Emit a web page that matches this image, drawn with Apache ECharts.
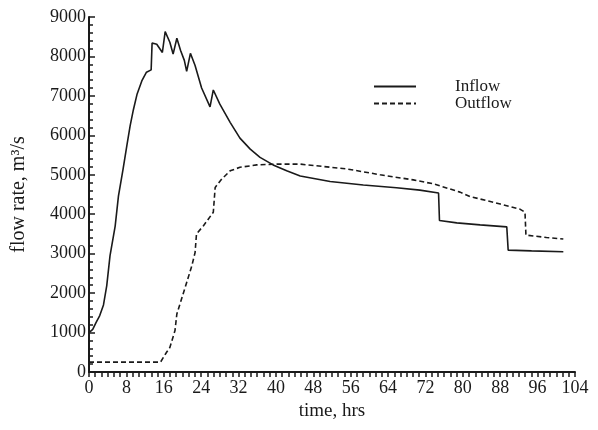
<!DOCTYPE html>
<html>
<head>
<meta charset="utf-8">
<title>Flow rate vs time</title>
<script src="https://cdn.jsdelivr.net/npm/echarts@6/dist/echarts.min.js"></script>
<style>
  html, body { margin: 0; padding: 0; background: #fff; }
  #chart { width: 598px; height: 430px; }
</style>
</head>
<body>
<div id="chart"></div>
<script>
// Reservoir routing hydrograph: inflow and outflow (m^3/s) over time (hrs)
const inflowTime = [0, 0.8, 1.5, 2.3, 3.1, 3.8, 4.5, 5.6, 6.3, 7.3, 8.1, 8.8, 9.5, 10.3, 11.3, 12.3,
  13.3, 13.5, 14.5, 15.7, 16.3, 17.3, 18.0, 18.8, 19.6, 20.4, 20.9, 21.7, 22.7, 24.1, 25.9, 26.6,
  28.0, 30.2, 32.3, 34.5, 36.6, 39.4, 42.3, 45.2, 51.6, 58.7, 65.8, 70.8, 74.8, 75.0, 78.7, 83.7,
  89.4, 89.7, 94.7, 101.5];
const inflowRate = [1000, 1080, 1250, 1430, 1700, 2190, 2950, 3700, 4460, 5150, 5740, 6240, 6650, 7050, 7380, 7600,
  7660, 8340, 8310, 8100, 8630, 8360, 8060, 8460, 8150, 7900, 7620, 8080, 7770, 7200, 6720, 7150,
  6790, 6330, 5930, 5650, 5440, 5250, 5100, 4970, 4830, 4740, 4670, 4610, 4540, 3840, 3780, 3730,
  3680, 3090, 3070, 3050];

const outflowTime = [0, 15.3, 16.6, 17.3, 18.4, 18.8, 19.8, 20.9, 22.0, 22.7, 23.0, 24.5, 26.6, 27.0,
  28.4, 30.2, 32.3, 35.9, 40.2, 45.2, 50.1, 55.1, 62.3, 69.4, 73.7, 79.4, 81.5, 88.0, 92.2, 93.3,
  93.5, 97.9, 101.5];
const outflowRate = [250, 250, 500, 620, 1050, 1470, 1850, 2270, 2690, 3030, 3500, 3710, 4050, 4680,
  4890, 5100, 5190, 5250, 5270, 5270, 5210, 5150, 5000, 4870, 4770, 4560, 4450, 4260, 4130, 4050,
  3470, 3410, 3370];

const seriesNames = ['Inflow', 'Outflow'];
const xAxisName = 'time, hrs';
const yAxisName = 'flow rate, m\u00B3/s';

const pairs = (t, v) => t.map((x, i) => [x, v[i]]);
const plain = v => String(v);

const ink = '#1a1a1a';
const serif = '"Liberation Serif", "DejaVu Serif", serif';

const chart = echarts.init(document.getElementById('chart'), null, { renderer: 'canvas' });
chart.setOption({
  backgroundColor: '#ffffff',
  animation: false,
  textStyle: { fontFamily: serif, color: ink },
  grid: { left: 89, right: 23, top: 17, bottom: 58, containLabel: false },
  legend: {
    orient: 'vertical',
    left: 368,
    top: 73,
    itemWidth: 42,
    itemHeight: 10,
    itemGap: 0,
    itemStyle: { opacity: 0 },
    textStyle: { fontFamily: serif, fontSize: 17, color: ink, padding: [0, 0, 0, 34] },
    data: seriesNames
  },
  xAxis: {
    type: 'value',
    min: 0,
    max: 104,
    interval: 8,
    name: xAxisName,
    nameLocation: 'middle',
    nameGap: 29,
    nameTextStyle: { fontFamily: serif, fontSize: 19, color: ink },
    axisLine: { show: true, onZero: false, lineStyle: { color: ink, width: 2 } },
    axisTick: { show: true, inside: false, length: 5, lineStyle: { color: ink, width: 1.5 } },
    minorTick: { show: true, splitNumber: 6, length: 5, lineStyle: { color: ink, width: 1.5 } },
    axisLabel: { fontFamily: serif, fontSize: 18, color: ink, margin: 7, formatter: plain },
    splitLine: { show: false }
  },
  yAxis: {
    type: 'value',
    min: 0,
    max: 9000,
    interval: 1000,
    name: yAxisName,
    nameLocation: 'middle',
    nameGap: 60,
    nameRotate: 90,
    nameTextStyle: { fontFamily: serif, fontSize: 20, color: ink },
    axisLine: { show: true, lineStyle: { color: ink, width: 2 } },
    axisTick: { show: true, inside: true, length: 6, lineStyle: { color: ink, width: 1.5 } },
    minorTick: { show: true, splitNumber: 5, length: 4, lineStyle: { color: ink, width: 1.5 } },
    axisLabel: { fontFamily: serif, fontSize: 18, color: ink, margin: 3, formatter: plain },
    splitLine: { show: false }
  },
  series: [
    {
      name: seriesNames[0],
      type: 'line',
      symbol: 'none',
      data: pairs(inflowTime, inflowRate),
      itemStyle: { color: ink },
      lineStyle: { color: ink, width: 1.6, type: 'solid' }
    },
    {
      name: seriesNames[1],
      type: 'line',
      symbol: 'none',
      data: pairs(outflowTime, outflowRate),
      itemStyle: { color: ink },
      lineStyle: { color: ink, width: 1.6, type: [5, 3] }
    }
  ]
});
</script>
</body>
</html>
